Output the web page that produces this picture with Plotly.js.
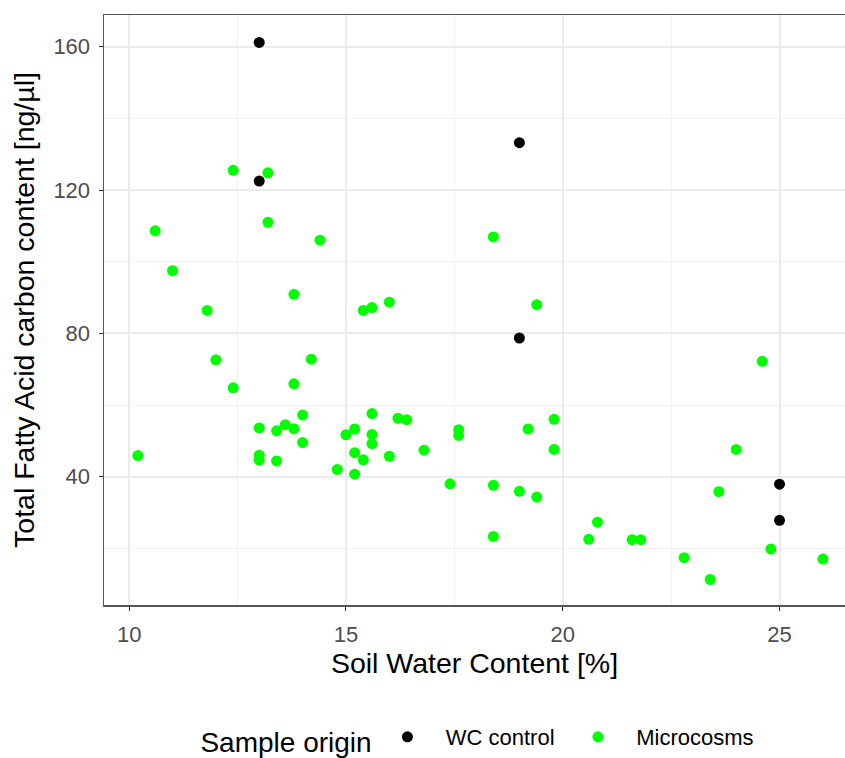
<!DOCTYPE html>
<html>
<head>
<meta charset="utf-8">
<script src="https://cdn.plot.ly/plotly-3.0.1.min.js"></script>
<style>html,body{margin:0;padding:0;background:#fff;}#chart{width:845px;height:758px;}</style>
</head>
<body>
<div id="chart"></div>
<script>
const controlX = [13.0, 13.0, 19.0, 19.0, 25.0, 25.0];
const controlY = [161.2, 122.5, 133.2, 78.7, 37.9, 27.8];

const microX = [12.4, 13.2, 13.2, 10.6, 14.4, 11.0, 13.8, 11.8, 12.0, 14.2,
  13.8, 12.4, 14.0, 13.0, 13.4, 13.6, 13.8, 14.0, 13.0, 13.0,
  13.4, 10.2, 14.8, 18.4, 16.0, 15.4, 15.6, 19.4, 15.6, 16.2,
  16.4, 15.0, 15.2, 15.6, 15.6, 15.2, 15.4, 16.0, 15.2, 16.8,
  17.6, 17.6, 19.2, 19.8, 19.8, 17.4, 18.4, 19.0, 19.4, 18.4,
  20.8, 20.6, 24.6, 24.0, 23.6, 21.6, 21.8, 22.8, 23.4, 24.8, 26.0];
const microY = [125.5, 124.8, 111.0, 108.6, 106.0, 97.5, 90.9, 86.4, 72.6, 72.8,
  65.9, 64.8, 57.2, 53.6, 52.8, 54.5, 53.4, 49.5, 46.0, 44.6,
  44.4, 45.9, 42.0, 106.9, 88.7, 86.4, 87.2, 88.0, 57.6, 56.3,
  55.9, 51.7, 53.3, 51.8, 49.2, 46.7, 44.7, 45.7, 40.7, 47.4,
  53.1, 51.5, 53.3, 56.0, 47.6, 38.0, 37.6, 35.9, 34.3, 23.3,
  27.3, 22.5, 72.2, 47.6, 35.8, 22.4, 22.4, 17.4, 11.3, 19.8, 17.0];

const seriesNames = ["WC control", "Microcosms"];

const FONT = "Liberation Sans, Arial, sans-serif";
const NB = "\u00a0";

const traces = [
  {x: controlX, y: controlY, name: NB + NB + NB + seriesNames[0] + NB + NB + NB, type: "scatter", mode: "markers",
   marker: {color: "#000000", size: 11}},
  {x: microX, y: microY, name: NB + NB + NB + seriesNames[1], type: "scatter", mode: "markers",
   marker: {color: "#00ff00", size: 11}}
];

const layout = {
  width: 845, height: 758,
  margin: {l: 104, r: 0, t: 15, b: 153, autoexpand: false},
  paper_bgcolor: "#ffffff", plot_bgcolor: "#ffffff",
  font: {family: FONT, color: "#000"},
  showlegend: true,
  xaxis: {
    automargin: false,
    range: [9.42, 26.51], tickmode: "linear", tick0: 10, dtick: 5,
    ticks: "outside", ticklen: 4, tickcolor: "#333", tickwidth: 1,
    ticklabelstandoff: 5,
    tickfont: {size: 22, color: "#4d4d4d", family: FONT},
    showgrid: true, gridcolor: "#ebebeb", gridwidth: 2,
    minor: {tick0: 0, dtick: 2.5, showgrid: true, gridcolor: "#f2f2f2", gridwidth: 1, ticks: ""},
    showline: true, linecolor: "#555", linewidth: 1.5, mirror: true,
    zeroline: false,
    title: {text: "Soil Water Content [%]", font: {size: 28.5, color: "#000", family: FONT}, standoff: 6}
  },
  yaxis: {
    automargin: false,
    range: [4.18, 168.85], tickmode: "linear", tick0: 0, dtick: 40,
    ticks: "outside", ticklen: 4, tickcolor: "#333", tickwidth: 1,
    ticklabelstandoff: 4,
    tickfont: {size: 22, color: "#4d4d4d", family: FONT},
    showgrid: true, gridcolor: "#ebebeb", gridwidth: 2,
    minor: {tick0: 0, dtick: 20, showgrid: true, gridcolor: "#f2f2f2", gridwidth: 1, ticks: ""},
    showline: true, linecolor: "#555", linewidth: 1.5, mirror: true,
    zeroline: false,
    title: {text: "Total Fatty Acid carbon content [ng/µl]", font: {size: 28.5, color: "#000", family: FONT}, standoff: 10}
  },
  legend: {
    orientation: "h", x: 0.506, xanchor: "center", y: -0.228, yanchor: "middle",
    title: {text: "Sample origin" + NB, side: "left", font: {size: 28, color: "#000", family: FONT}},
    font: {size: 22, color: "#000", family: FONT},
    itemwidth: 30
  }
};

Plotly.newPlot("chart", traces, layout, {displayModeBar: false, staticPlot: true});
</script>
</body>
</html>
